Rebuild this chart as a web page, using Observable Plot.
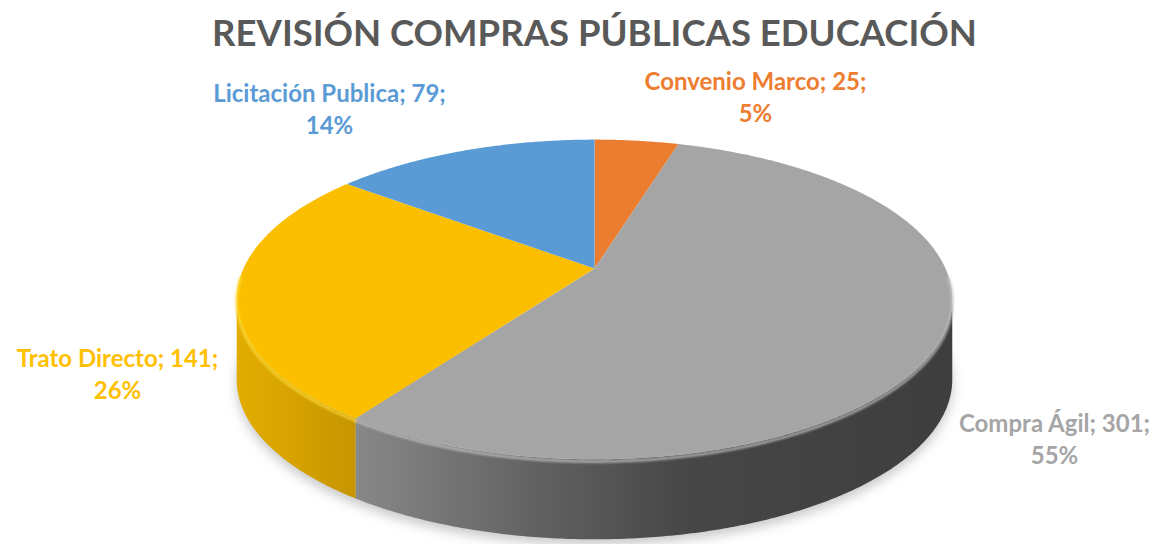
<!DOCTYPE html>
<html><head><meta charset="utf-8">
<script src="https://cdn.jsdelivr.net/npm/d3@7"></script>
<script src="https://cdn.jsdelivr.net/npm/@observablehq/plot@0.6"></script>
<style>
body{margin:0;background:#fff;}
#chart svg{display:block;}
</style>
</head><body><div id="chart"></div>
<script>
// ---- data ----
const categories = ["Convenio Marco", "Compra Ágil", "Trato Directo", "Licitación Publica"];
const values = [25, 301, 141, 79];
const percentLabels = ["5%", "55%", "26%", "14%"];
const topColors = ["#EB7D31", "#A5A5A5", "#FBBF00", "#5B9BD5"];
const labelColors = ["#ED7D31", "#A5A5A5", "#FFC000", "#5B9BD5"];
const title = "REVISIÓN COMPRAS PÚBLICAS EDUCACIÓN";

// ---- geometry (3D perspective pie) ----
const TILT = 26 * Math.PI / 180, DIST = 4.64;
const sinA = Math.sin(TILT), cosA = Math.cos(TILT);
const DEPTH = 80 / 351; // thickness in projected units
function project(t) {
  const X = Math.sin(t), Z = Math.cos(t);
  const w = (DIST + Z * cosA) / DIST;
  return [X / w, -(Z * sinA) / w];
}
const STEP = Math.PI / 360;
function arcPoints(a0, a1, drop = 0) {
  const n = Math.max(2, Math.ceil(Math.abs(a1 - a0) / STEP));
  const pts = [];
  for (let k = 0; k <= n; k++) {
    const t = a0 + (a1 - a0) * k / n;
    const [x, y] = project(t);
    pts.push({x, y: y + drop});
  }
  return pts;
}
const total = d3.sum(values);
let acc = 0;
const slices = categories.map((c, i) => {
  const a0 = acc / total * 2 * Math.PI; acc += values[i];
  const a1 = acc / total * 2 * Math.PI;
  return {c, i, a0, a1};
});
const silR = Math.acos(-cosA / DIST), silL = 2 * Math.PI - silR;

const sideFills = {1: "url(#sideGray)", 2: "url(#sideGold)"};
const rimStroke = {0: "#F59A5A", 1: "#C4C4C4", 2: "#FFD935", 3: "#7DB3E2"};

const marks = [];
// defs for gradients
marks.push(() => {
  const defs = d3.create("svg:defs");
  const g1 = defs.append("linearGradient").attr("id", "sideGray").attr("x1", 0).attr("x2", 1).attr("y1", 0).attr("y2", 0);
  [[0, "#888888"], [0.3, "#626262"], [0.55, "#474747"], [1, "#3e3e3e"]].forEach(([o, c]) => g1.append("stop").attr("offset", o).attr("stop-color", c));
  const g2 = defs.append("linearGradient").attr("id", "sideGold").attr("x1", 0).attr("x2", 1).attr("y1", 0).attr("y2", 0);
  [[0, "#E2AC00"], [0.5, "#D6A200"], [1, "#C69500"]].forEach(([o, c]) => g2.append("stop").attr("offset", o).attr("stop-color", c));
  return defs.node();
});
// shadow
marks.push(Plot.line(arcPoints(silR - 0.3, silL + 0.3, DEPTH + 0.015), {x: "x", y: "y", fill: "#000", fillOpacity: 0.22, stroke: "none", imageFilter: "blur(6px)"}));
// side faces
slices.forEach(s => {
  const b0 = Math.max(s.a0, silR), b1 = Math.min(s.a1, silL);
  if (b1 <= b0) return;
  const pts = arcPoints(b0, b1).concat(arcPoints(b0, b1, DEPTH).reverse());
  marks.push(Plot.line(pts, {x: "x", y: "y", fill: sideFills[s.i] || topColors[s.i], stroke: "none"}));
});
// top faces
slices.forEach(s => {
  const pts = [{x: 0, y: 0}].concat(arcPoints(s.a0, s.a1)).concat([{x: 0, y: 0}]);
  marks.push(Plot.line(pts, {x: "x", y: "y", fill: topColors[s.i], stroke: "none"}));
});
// rim highlights on front edge
slices.forEach(s => {
  const b0 = Math.max(s.a0, silR - 0.15), b1 = Math.min(s.a1, silL + 0.15);
  if (b1 <= b0) return;
  marks.push(Plot.line(arcPoints(b0, b1, 0.006), {x: "x", y: "y", stroke: rimStroke[s.i], strokeWidth: 3, strokeOpacity: 0.75, imageFilter: "blur(0.8px)"}));
});
// title
marks.push(Plot.text([title], {frameAnchor: "top-left", dx: 594, dy: 34, text: d => d, fontSize: 36.5, fontWeight: "bold", fill: "#595959", fontFamily: "Lato", lineAnchor: "middle", textAnchor: "middle"}));
// data labels (pixel placement of each label centre)
const labelLayout = {"Convenio Marco": [755, 95], "Compra Ágil": [1054, 437], "Trato Directo": [117, 372], "Licitación Publica": [329, 107]};
const labelRows = categories.map((c, i) => ({text: `${c}; ${values[i]};\n${percentLabels[i]}`, color: labelColors[i], pos: labelLayout[c]}));
labelRows.forEach(r => {
  marks.push(Plot.text([r], {frameAnchor: "top-left", dx: r.pos[0], dy: r.pos[1], text: "text", fill: r.color, fontSize: 24, fontWeight: "bold", fontFamily: "Lato", lineHeight: 1.35, lineAnchor: "middle", textAnchor: "middle"}));
});

const chart = Plot.plot({
  width: 1159, height: 544,
  margin: 0,
  x: {domain: [-1, 1], range: [594 - 351, 594 + 351], axis: null},
  y: {domain: [-1, 1], range: [268 - 351, 268 + 351], axis: null},
  style: {background: "#fff", fontFamily: "Lato"},
  marks
});
document.getElementById("chart").append(chart);
</script>
</body></html>
